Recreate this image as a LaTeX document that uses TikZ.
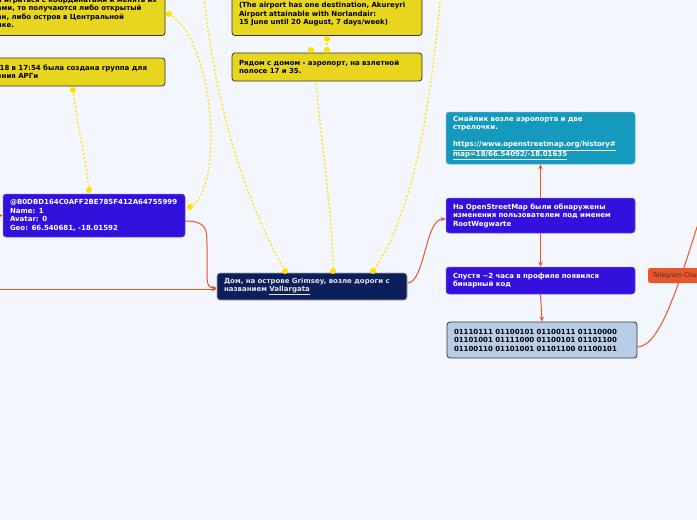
\documentclass[tikz,border=0pt]{standalone}
\usepackage{fontspec}
\setmainfont{DejaVu Sans}
\usetikzlibrary{arrows.meta}
\definecolor{bg}{HTML}{F4F6FE}
\definecolor{ybox}{HTML}{E8D61E}
\definecolor{yline}{HTML}{FFE100}
\definecolor{purp}{HTML}{3410DC}
\definecolor{navy}{HTML}{0C1E5B}
\definecolor{teal}{HTML}{1599BC}
\definecolor{lblue}{HTML}{B8CCE6}
\definecolor{orng}{HTML}{E8562A}
\newcommand{\myul}[1]{\underline{#1}}
\tikzset{
  base/.style={rounded corners=3pt, inner xsep=7pt, inner ysep=0pt, align=left,
    font=\fontsize{7}{8.5}\selectfont\bfseries},
  ybx/.style={base, fill=ybox, draw=black!80, line width=0.8pt, text=black},
  pbx/.style={base, fill=purp, draw=purp!70!white, line width=0.5pt, text=white},
  nbx/.style={base, fill=navy, draw=black!35!white, line width=0.6pt, text=black!10!white},
  tbx/.style={base, fill=teal, draw=teal!70!white, line width=0.5pt, text=white},
  bbx/.style={base, fill=lblue, draw=black!80, line width=0.8pt, text=black},
  gbx/.style={rounded corners=2pt, inner xsep=5pt, inner ysep=0pt, fill=orng, text=black!80,
    font=\fontsize{6.3}{7}\selectfont, minimum height=15pt},
  ydot/.style={circle, fill=yline, inner sep=0pt, minimum size=6pt},
  ycon/.style={draw=yline, line width=1.2pt, dash pattern=on 2pt off 2pt},
  ocon/.style={draw=orng, line width=1pt},
  oarr/.style={ocon, -{Stealth[length=5pt,width=4.5pt]}},
}
\begin{document}
\begin{tikzpicture}[x=1pt,y=-1pt]
\useasboundingbox (0,0) rectangle (697,520);
\fill[bg] (0,0) rectangle (697,520);
\clip (0,0) rectangle (697,520);

% yellow boxes
\node[ybx, text width=161pt, minimum height=45pt] (y1) at (77.5,13)
  {и играться с координатами и менять их\\ами, то получаются либо открытый\\ан, либо остров в Центральной\\ике.};
\node[ybx, text width=161pt, minimum height=28pt] (y2) at (77.5,72)
  {.18 в 17:54 была создана группа для\\ения АРГи};
\node[ybx, text width=176pt, minimum height=45pt] (ya) at (327,13)
  {\mbox{}\\(The airport has one destination, Akureyri\\Airport attainable with Norlandair:\\15 June until 20 August, 7 days/week)};
\node[ybx, text width=176pt, minimum height=28pt] (yb) at (327,67)
  {Рядом с домом - аэропорт, на взлетной\\полосе 17 и 35.};

% purple / navy / teal / blue boxes
\node[pbx, text width=168pt, minimum height=43pt] (hash) at (94,215.5)
  {@B0DBD164C0AFF2BE785F412A64755999\\Name: 1\\Avatar: 0\\Geo: 66.540681, -18.01592};
\node[nbx, text width=176pt, minimum height=27pt] (main) at (312,286.5)
  {Дом, на острове Grimsey, возле дороги с\\названием \myul{Vallargata}};
\node[tbx, text width=175pt, minimum height=52pt] (smile) at (540.5,138)
  {Смайлик возле аэропорта и две\\стрелочки.\\\mbox{}\\\myul{https://www.openstreetmap.org/history\#}\\\myul{map=18/66.54092/-18.01635}};
\node[pbx, text width=175pt, minimum height=35pt] (osm) at (540.5,215.5)
  {На OpenStreetMap были обнаружены\\изменения пользователем под именем\\RootWegwarte};
\node[pbx, text width=175pt, minimum height=27pt] (later) at (540.5,280.5)
  {Спустя \textasciitilde2 часа в профиле появился\\бинарный код};
\node[bbx, text width=176pt, minimum height=36pt] (bin) at (542,340)
  {01110111 01100101 01100111 01110000\\01101001 01111000 01100101 01101100\\01100110 01101001 01101100 01100101};

% free ends
\coordinate (lt) at (203,-10);
\coordinate (rt) at (441,-10);
\coordinate (lin1) at (-20,289);
\coordinate (lin2) at (-20,216);
\coordinate (tgout) at (712,180);

% yellow dots
\node[ydot] (d1) at (169,14) {};
\node[ydot] (d2) at (190,207) {};
\node[ydot] (d3) at (73,90) {};
\node[ydot] (d4) at (89,190) {};
\node[ydot] (d5) at (285,271) {};
\node[ydot] (d6) at (333,271) {};
\node[ydot] (d7) at (373,271) {};
\node[ydot] (d8) at (327,39) {};
\node[ydot] (d9) at (327,50) {};
\node[ydot] (d10) at (311,50) {};

% yellow dashed connectors
\path[ycon] (d1.center) .. controls (215,40) and (225,190) .. (d2.center);
\path[ycon] (d3.center) .. controls (78,130) and (86,160) .. (d4.center);
\path[ycon] (lt) .. controls (215,100) and (240,190) .. (d5.center);
\path[ycon] (yb.south) ++(-11,2) .. controls (322,150) and (333,220) .. (d6.center);
\path[ycon] (rt) .. controls (430,120) and (410,220) .. (d7.center);
\path[ycon] (d8.center) -- (d9.center);

% orange connectors
\path[oarr] (lin1) -- (main.west |- 0,289);
\path[oarr] (lin2) -- (hash.west);
\path[oarr] (hash.east |- 0,221) .. controls (207,221) and (207,230) .. (207,245)
  -- (207,275) .. controls (207,285) and (209,288) .. (main.west |- 0,288);
\path[oarr] (main.east |- 0,283) .. controls (425,283) and (425,219) .. (osm.west |- 0,219);
\path[oarr] (osm.north) -- (smile.south);
\path[oarr] (osm.south) -- (later.north);
\path[oarr] (later.south) -- (bin.north);
\path[ocon] (bin.east |- 0,347) .. controls (662,346) and (680,280) .. (tgout);

\node[gbx, anchor=west] (tg) at (648,275.5) {Telegram Channel};
\end{tikzpicture}
\end{document}
